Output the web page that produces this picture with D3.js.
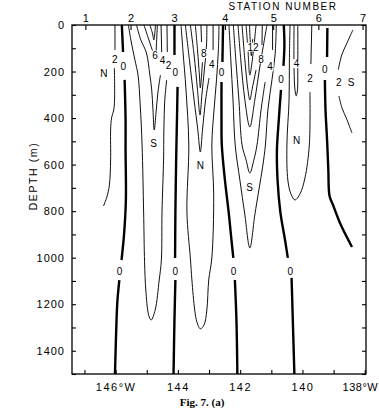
<!DOCTYPE html>
<html>
<head>
<meta charset="utf-8">
<script src="https://cdn.jsdelivr.net/npm/d3@7"></script>
<style>
  body { margin: 0; background: #fff; }
  svg { display: block; font-family: "Liberation Sans", Arial, sans-serif; }
</style>
</head>
<body>
<svg width="379" height="412"></svg>
<script>
// ---- data (longitude in deg W, depth in m) ----
var depthTicks = [0, 200, 400, 600, 800, 1000, 1200, 1400];
var depthMinor = [100, 300, 500, 700, 900, 1100, 1300, 1500];
var lonTicks = [146, 144, 142, 140, 138];
var lonLabels = ["146°W", "144", "142", "140", "138°W"];
var lonMinor = [147, 145, 143, 141, 139];
var stations = [1, 2, 3, 4, 5, 6, 7];
var stationLon = [146.97, 145.52, 144.12, 142.49, 140.94, 139.49, 138.07];

// zero isotachs (thick), each one a list of segments
var zeroLines = [
  [[[145.80, 0], [145.76, 116]],
   [[145.71, 236], [145.68, 408], [145.68, 537], [145.67, 752], [145.73, 902], [145.81, 1010]],
   [[145.88, 1096], [145.94, 1182], [145.97, 1268], [146.02, 1500]]],
  [[[144.11, 0], [144.11, 129]],
   [[144.01, 266], [144.03, 408], [144.05, 537], [144.08, 804], [144.09, 1001]],
   [[144.08, 1096], [144.11, 1268], [144.14, 1500]]],
  [[[142.55, 0], [142.57, 159]],
   [[142.60, 245], [142.60, 408], [142.59, 516], [142.49, 666], [142.37, 804], [142.28, 924], [142.22, 1001]],
   [[142.17, 1096], [142.12, 1268], [142.09, 1500]]],
  [[[140.60, 0], [140.58, 86], [140.61, 176]],
   [[140.69, 279], [140.76, 408], [140.82, 537], [140.80, 666], [140.71, 804], [140.56, 924], [140.47, 1001]],
   [[140.35, 1087], [140.31, 1268], [140.26, 1500]]],
  [[[139.20, 13], [139.21, 138]],
   [[139.28, 236], [139.26, 365], [139.21, 494], [139.17, 623], [139.13, 735], [139.02, 773], [138.77, 859], [138.41, 954]]]
];

// other isotachs (thin)
var isoLines = [
  // 2, west of station 2
  [[[146.02, 0], [146.02, 107]],
   [[146.04, 185], [146.05, 357], [146.13, 400], [146.16, 451], [146.16, 580], [146.20, 688], [146.28, 739], [146.39, 778]]],
  // 2, stations 2-3 (deep tongue)
  [[[145.59, 0], [145.51, 64], [145.38, 150], [145.28, 215], [145.21, 344], [145.15, 516], [145.10, 804], [145.07, 1018],
    [145.03, 1139], [144.94, 1246], [144.86, 1268], [144.73, 1225], [144.60, 1096], [144.53, 1010], [144.51, 804],
    [144.46, 580], [144.45, 451], [144.42, 322], [144.36, 236]],
   [[144.34, 116], [144.35, 0]]],
  // 4, stations 2-3
  [[[145.33, 0], [145.19, 64], [145.01, 120], [144.90, 215], [144.84, 279], [144.80, 365], [144.76, 451],
    [144.70, 374], [144.64, 288], [144.56, 215]],
   [[144.52, 116], [144.54, 0]]],
  // 6, stations 2-3
  [[[145.09, 0], [144.93, 64], [144.80, 116], [144.72, 142], [144.69, 86], [144.66, 0]]],
  // 8, stations 2-3
  [[[144.90, 0], [144.82, 34], [144.77, 64], [144.74, 34], [144.72, 0]]],
  // 2, stations 3-4
  [[[143.90, 0], [143.84, 107], [143.74, 279], [143.65, 516], [143.71, 804], [143.60, 1001], [143.55, 1096],
    [143.46, 1225], [143.39, 1276], [143.28, 1306], [143.16, 1289], [143.07, 1225], [143.01, 1096], [142.91, 1001],
    [142.85, 730], [142.91, 516], [142.84, 365], [142.76, 236], [142.70, 107], [142.68, 0]]],
  // 4, stations 3-4
  [[[143.76, 0], [143.63, 150], [143.48, 322], [143.36, 451], [143.28, 546], [143.21, 451], [143.11, 322], [143.00, 228]],
   [[142.87, 107], [142.87, 0]]],
  // 6, stations 3-4
  [[[143.60, 0], [143.48, 129], [143.37, 279], [143.29, 387], [143.23, 301], [143.15, 193], [143.08, 86], [143.07, 0]]],
  // 8, stations 3-4
  [[[143.44, 0], [143.37, 107], [143.31, 215], [143.28, 271], [143.24, 215], [143.21, 159]],
   [[143.24, 73], [143.26, 0]]],
  // 2, stations 4-5
  [[[142.36, 0], [142.30, 150], [142.23, 322], [142.16, 516], [142.01, 666], [141.85, 816], [141.69, 958],
    [141.53, 816], [141.40, 709], [141.27, 602], [141.19, 516], [141.11, 365], [140.98, 236], [140.88, 129], [140.84, 0]]],
  // 4, stations 4-5
  [[[142.22, 0], [142.14, 150], [142.04, 322], [141.94, 516], [141.81, 580], [141.69, 636], [141.56, 580],
    [141.46, 516], [141.33, 365], [141.20, 245]],
   [[140.96, 107], [140.96, 0]]],
  // 6, stations 4-5
  [[[142.07, 0], [141.98, 150], [141.85, 322], [141.69, 438], [141.53, 322], [141.36, 172], [141.14, 0]]],
  // 8, stations 4-5
  [[[141.94, 0], [141.85, 150], [141.75, 279], [141.69, 322], [141.61, 271], [141.49, 193]],
   [[141.30, 86], [141.29, 0]]],
  // 10, stations 4-5
  [[[141.81, 0], [141.75, 107], [141.69, 215], [141.61, 150], [141.49, 0]]],
  // 12, stations 4-5
  [[[141.70, 0], [141.67, 86], [141.64, 133], [141.60, 60]]],
  // 2, stations 5-6
  [[[140.40, 0], [140.42, 150], [140.43, 322], [140.50, 516], [140.47, 666], [140.37, 726], [140.24, 752],
    [140.08, 726], [139.92, 657], [139.78, 516], [139.76, 288]],
   [[139.73, 168], [139.70, 0]]],
  // 4, stations 5-6
  [[[140.27, 0], [140.27, 193], [140.24, 279], [140.20, 305], [140.16, 279], [140.15, 193], [140.15, 0]]],
  // 2, east of station 6
  [[[138.38, 21], [138.60, 86], [138.74, 129], [138.85, 193]],
   [[138.83, 305], [138.73, 357], [138.58, 404], [138.41, 464]]]
];

var isoLabels = [
  {lon: 146.03, depth: 146, text: "2"},
  {lon: 145.75, depth: 176, text: "0"},
  {lon: 144.73, depth: 129, text: "6"},
  {lon: 144.49, depth: 150, text: "4"},
  {lon: 144.30, depth: 172, text: "2"},
  {lon: 144.08, depth: 202, text: "0"},
  {lon: 143.17, depth: 123, text: "8"},
  {lon: 142.91, depth: 171, text: "4"},
  {lon: 142.60, depth: 202, text: "0"},
  {lon: 141.59, depth: 95, text: "12"},
  {lon: 141.33, depth: 146, text: "8"},
  {lon: 141.04, depth: 180, text: "4"},
  {lon: 140.69, depth: 232, text: "0"},
  {lon: 140.19, depth: 166, text: "4"},
  {lon: 139.76, depth: 228, text: "2"},
  {lon: 139.28, depth: 189, text: "0"},
  {lon: 138.83, depth: 248, text: "2"},
  {lon: 145.87, depth: 1057, text: "0"},
  {lon: 144.08, depth: 1057, text: "0"},
  {lon: 142.21, depth: 1057, text: "0"},
  {lon: 140.39, depth: 1057, text: "0"}
];

var flowLabels = [
  {lon: 146.38, depth: 209, text: "N"},
  {lon: 144.78, depth: 510, text: "S"},
  {lon: 143.28, depth: 605, text: "N"},
  {lon: 141.70, depth: 699, text: "S"},
  {lon: 140.19, depth: 495, text: "N"},
  {lon: 138.44, depth: 248, text: "S"}
];

// ---- layout ----
var svg = d3.select("svg");
var x = d3.scaleLinear().domain([147.4, 137.96]).range([72, 366]);
var y = d3.scaleLinear().domain([0, 1500]).range([25, 374]);

var line = d3.line()
  .x(function (d) { return x(d[0]); })
  .y(function (d) { return y(d[1]); })
  .curve(d3.curveCatmullRom.alpha(0.5));

// thin isotachs
isoLines.forEach(function (segs) {
  svg.append("g").selectAll("path")
    .data(segs).enter().append("path")
    .attr("d", line)
    .attr("fill", "none")
    .attr("stroke", "#111")
    .attr("stroke-width", 1);
});

// zero isotachs
zeroLines.forEach(function (segs) {
  svg.append("g").selectAll("path")
    .data(segs).enter().append("path")
    .attr("d", line)
    .attr("fill", "none")
    .attr("stroke", "#000")
    .attr("stroke-width", 2.4);
});

// contour labels, a white patch under each one cuts the lines
var lab = svg.append("g").selectAll("g")
  .data(isoLabels).enter().append("g")
  .attr("transform", function (d) { return "translate(" + x(d.lon) + "," + y(d.depth) + ")"; });
lab.append("rect")
  .attr("x", function (d) { return -3 * d.text.length - 0.5; })
  .attr("y", -4.5)
  .attr("width", function (d) { return 6 * d.text.length + 1; })
  .attr("height", 9)
  .attr("fill", "#fff");
lab.append("text")
  .attr("text-anchor", "middle")
  .attr("dy", "0.36em")
  .attr("fill", "#000")
  .style("font-size", "10px")
  .text(function (d) { return d.text; });

svg.append("g").selectAll("text")
  .data(flowLabels).enter().append("text")
  .attr("x", function (d) { return x(d.lon); })
  .attr("y", function (d) { return y(d.depth); })
  .attr("text-anchor", "middle")
  .attr("dy", "0.36em")
  .attr("fill", "#000")
  .style("font-size", "10px")
  .text(function (d) { return d.text; });

// frame
svg.append("rect")
  .attr("x", 72).attr("y", 25)
  .attr("width", 294).attr("height", 349)
  .attr("fill", "none").attr("stroke", "#000").attr("stroke-width", 1.3);

// left axis
var leftAxis = svg.append("g").attr("transform", "translate(72,0)")
  .call(d3.axisLeft(y).tickValues(depthTicks).tickSize(-4).tickPadding(7).tickFormat(d3.format("d")));
leftAxis.selectAll("text").style("font-size", "11px").style("letter-spacing", "1px");
svg.append("g").attr("transform", "translate(72,0)")
  .call(d3.axisLeft(y).tickValues(depthMinor).tickSize(-4).tickFormat(""));
// right axis
svg.append("g").attr("transform", "translate(366,0)")
  .call(d3.axisRight(y).tickValues(depthTicks.concat(depthMinor)).tickSize(-4).tickFormat(""));
// bottom axis
var bottomAxis = svg.append("g").attr("transform", "translate(0,374)")
  .call(d3.axisBottom(x).tickValues(lonTicks).tickSize(-4).tickPadding(9)
    .tickFormat(function (d, i) { return lonLabels[i]; }));
bottomAxis.selectAll("text").style("font-size", "11px").style("letter-spacing", "1.5px");
bottomAxis.selectAll("text").filter(function (d) { return d === 138; })
  .style("letter-spacing", "0.5px").attr("text-anchor", "end").attr("dx", "13");
svg.append("g").attr("transform", "translate(0,374)")
  .call(d3.axisBottom(x).tickValues(lonMinor).tickSize(-4).tickFormat(""));
// top axis: stations
var topAxis = svg.append("g").attr("transform", "translate(0,25)")
  .call(d3.axisTop(x).tickValues(stationLon).tickSize(-5).tickPadding(3)
    .tickFormat(function (d, i) { return stations[i]; }));
topAxis.selectAll("text").style("font-size", "11px");

svg.selectAll(".domain").remove();
svg.selectAll(".tick line").attr("stroke", "#000").attr("stroke-width", 1.1);
svg.selectAll(".tick text").attr("fill", "#000").style("font-family", "Liberation Sans, Arial, sans-serif");

// titles
svg.append("text")
  .attr("x", 283).attr("y", 10)
  .attr("text-anchor", "middle")
  .style("font-size", "10px").style("letter-spacing", "1.5px")
  .text("STATION NUMBER");

svg.append("text")
  .attr("transform", "translate(37,176) rotate(-90)")
  .attr("text-anchor", "middle")
  .style("font-size", "10.5px").style("letter-spacing", "1.6px")
  .text("DEPTH (m)");

svg.append("text")
  .attr("x", 202).attr("y", 406)
  .attr("text-anchor", "middle")
  .style("font-family", "Liberation Serif, Times New Roman, serif")
  .style("font-weight", "bold")
  .style("font-size", "11px")
  .text("Fig. 7. (a)");
</script>
</body>
</html>
